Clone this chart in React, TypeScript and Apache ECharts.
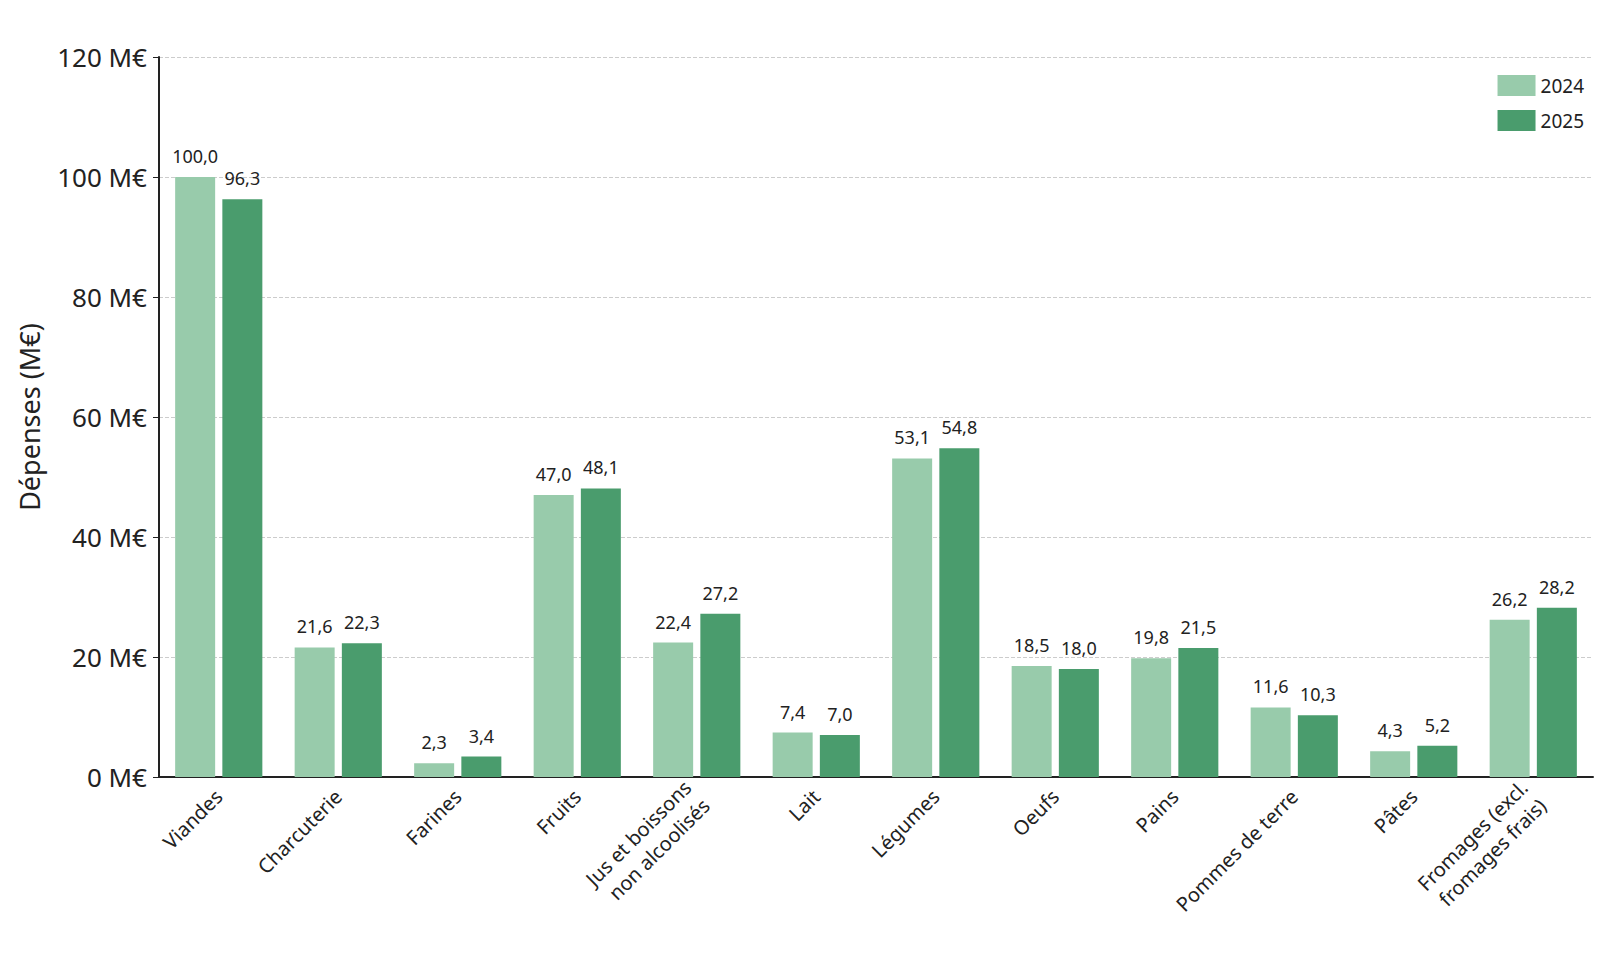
import { useEffect, useRef } from 'react';
import * as echarts from 'echarts';

const categories = [
  'Viandes', 'Charcuterie', 'Farines', 'Fruits', 'Jus et boissons\nnon alcoolisés', 'Lait',
  'Légumes', 'Oeufs', 'Pains', 'Pommes de terre', 'Pâtes', 'Fromages (excl.\nfromages frais)',
];
const values2024 = [100.0, 21.6, 2.3, 47.0, 22.4, 7.4, 53.1, 18.5, 19.8, 11.6, 4.3, 26.2];
const values2025 = [96.3, 22.3, 3.4, 48.1, 27.2, 7.0, 54.8, 18.0, 21.5, 10.3, 5.2, 28.2];

const font = 'Noto Sans, DejaVu Sans, sans-serif';
const fmt = (p: { value: number }) => p.value.toFixed(1).replace('.', ',');

export default function App() {
  const ref = useRef<HTMLDivElement>(null);

  useEffect(() => {
    if (!ref.current) return;
    const chart = echarts.init(ref.current, undefined, { renderer: 'svg' });
    const label = { show: true, position: 'top', distance: 12, formatter: fmt, color: '#222', fontSize: 18, fontFamily: font };
    chart.setOption({
      animation: false,
      textStyle: { fontFamily: font },
      legend: {
        orient: 'vertical', right: 26, top: 62, itemWidth: 38, itemHeight: 21, itemGap: 14,
        icon: 'rect', textStyle: { fontSize: 19, color: '#222' },
      },
      grid: { left: 148, right: 22, top: 49, bottom: 184 },
      xAxis: {
        type: 'category',
        data: categories,
        axisLine: { lineStyle: { color: '#222', width: 2 } },
        axisTick: { show: false },
        axisLabel: { rotate: 45, color: '#222', fontSize: 20, interval: 0, margin: 16, align: 'right', lineHeight: 26 },
      },
      yAxis: {
        type: 'value', min: 0, max: 120, interval: 20,
        name: 'Dépenses (M€)', nameLocation: 'middle', nameGap: 116, nameRotate: 90,
        nameTextStyle: { fontSize: 27, color: '#222' },
        axisLine: { show: true, lineStyle: { color: '#222', width: 2 } },
        axisTick: { show: true, length: 6, lineStyle: { color: '#222' } },
        axisLabel: { formatter: '{value} M€', color: '#222', fontSize: 26, margin: 12 },
        splitLine: { lineStyle: { color: '#ccc', type: 'dashed' } },
      },
      series: [
        { name: '2024', type: 'bar', data: values2024, barWidth: 40, barGap: '18%', itemStyle: { color: '#98cbab' }, label },
        { name: '2025', type: 'bar', data: values2025, barWidth: 40, itemStyle: { color: '#4a9c6d' }, label },
      ],
    });
    return () => chart.dispose();
  }, []);

  return <div ref={ref} style={{ width: 1607, height: 953 }} />;
}
